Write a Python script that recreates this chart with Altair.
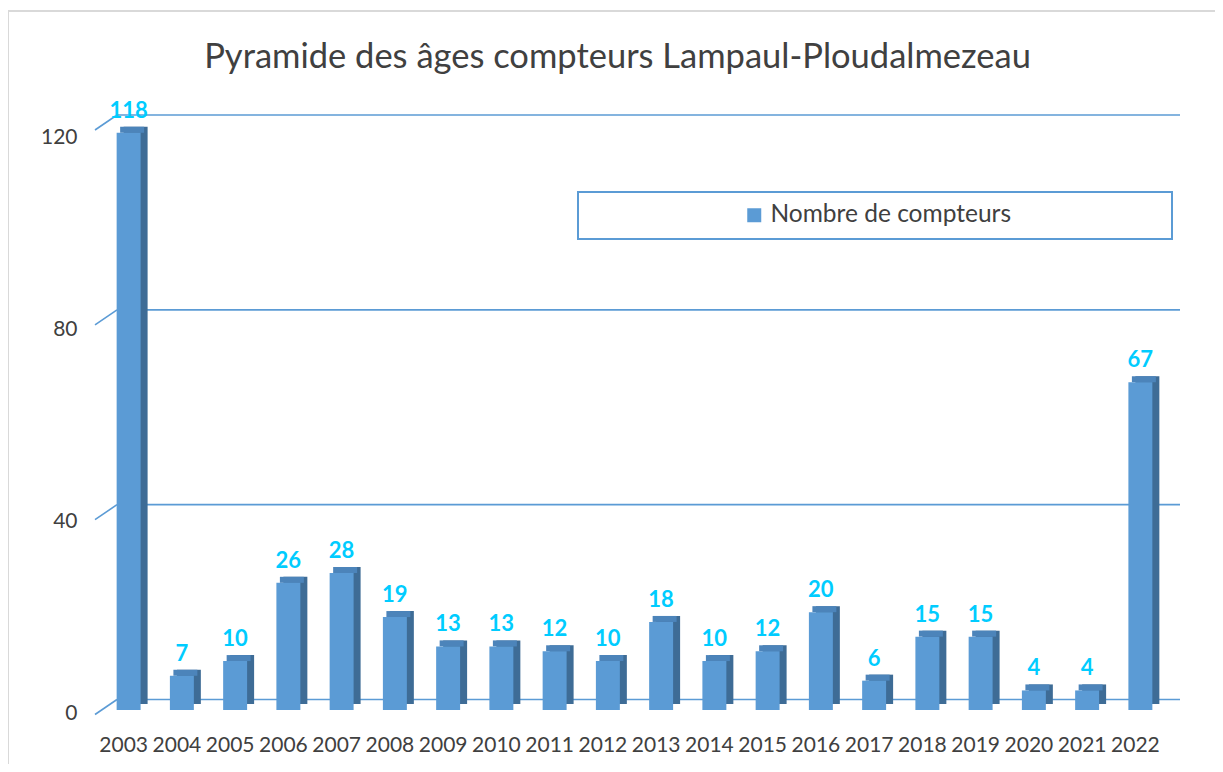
import altair as alt
import pandas as pd

years = [str(y) for y in range(2003, 2023)]
values = [118, 7, 10, 26, 28, 19, 13, 13, 12, 10, 18, 10, 12, 20, 6, 15, 15, 4, 4, 67]
series_name = "Nombre de compteurs"
tick_values = [0, 40, 80, 120]
title_text = "Pyramide des âges compteurs Lampaul-Ploudalmezeau"

FRONT = "#5B9BD5"
SIDE = "#3E6C96"
TOP = "#4C84BA"
GRID = "#5B9BD5"
TEXT = "#404040"
LABEL = "#00CCFF"
FONT = "Lato"

df = pd.DataFrame({"year": years, "value": values, "zero": [0] * len(values),
                   "series": [series_name] * len(values)})
ticks_df = pd.DataFrame({"v": tick_values})

W, H = 1065, 587

xenc = alt.X("year:N", sort=years,
             scale=alt.Scale(paddingInner=0.55, paddingOuter=0.275),
             axis=alt.Axis(title=None, domain=False, ticks=False, labelAngle=0,
                           labelFont=FONT, labelFontSize=21, labelColor=TEXT,
                           labelPadding=24))

# Layer A: y-axis labels (label plane)
yA = alt.Scale(domain=[0, 120], range=[590, 14])
layerA = alt.Chart(ticks_df).mark_point(opacity=0).encode(
    x=alt.value(0),
    y=alt.Y("v:Q", scale=yA,
            axis=alt.Axis(title=None, orient="left", values=tick_values, domain=False,
                          ticks=False, grid=False, labelFont=FONT, labelFontSize=21,
                          labelColor=TEXT, labelPadding=20)),
)

# Layer B: back wall gridlines and diagonal ticks
yB = alt.Scale(domain=[0, 120], range=[576.5, -8])
grid = alt.Chart(ticks_df).mark_rule(color=GRID, strokeWidth=1.6).encode(
    y=alt.Y("v:Q", scale=yB, axis=None),
    x=alt.value(20), x2=alt.value(1083),
)
diag = alt.Chart(ticks_df).mark_rule(color=GRID, strokeWidth=1.6, yOffset=15).encode(
    y=alt.Y("v:Q", scale=yB, axis=None),
    y2=alt.Y2("v:Q"),
    x=alt.value(-2), x2=alt.value(20),
)
layerB = alt.layer(grid, diag)

# Layer C: bars (front plane)
yC = alt.Scale(domain=[0, 120], range=[H, 0])
base = alt.Chart(df)
side = base.mark_bar(color=SIDE, xOffset=12, yOffset=-6, y2Offset=-6).encode(
    x=xenc, y=alt.Y("value:Q", scale=yC, axis=None), y2=alt.Y2("zero:Q"))
top = base.mark_bar(color=TOP, xOffset=8.5, yOffset=-6, y2Offset=0).encode(
    x=xenc, y=alt.Y("value:Q", scale=yC, axis=None), y2=alt.Y2("value:Q"))
front = base.mark_bar(xOffset=5).encode(
    x=xenc, y=alt.Y("value:Q", scale=yC, axis=None), y2=alt.Y2("zero:Q"),
    color=alt.Color("series:N",
                    scale=alt.Scale(domain=[series_name], range=[FRONT]),
                    legend=alt.Legend(orient="none", legendX=645, legendY=80, title=None,
                                      symbolType="square", symbolSize=196,
                                      symbolStrokeWidth=0, labelFont=FONT,
                                      labelFontSize=24.5, labelColor=TEXT, padding=0,
                                      labelOffset=4, labelLimit=500)))
labels = base.mark_text(xOffset=5, dy=-15, baseline="alphabetic", font=FONT,
                        fontSize=22, fontWeight="bold", color=LABEL).encode(
    x=xenc, y=alt.Y("value:Q", scale=yC, axis=None), text=alt.Text("value:Q"))

box_df = pd.DataFrame({"a": [0]})
title_df = pd.DataFrame({"t": [title_text]})
legend_box = alt.Chart(box_df).mark_rect(fill="white", fillOpacity=0, stroke=FRONT,
                                          strokeWidth=2).encode(
    x=alt.value(481), x2=alt.value(1075), y=alt.value(69), y2=alt.value(116))
border_v = alt.Chart(box_df).mark_rule(color="#D9D9D9", strokeWidth=2).encode(
    x=alt.value(-89), y=alt.value(-112), y2=alt.value(641))
border_h = alt.Chart(box_df).mark_rule(color="#D9D9D9", strokeWidth=2).encode(
    x=alt.value(-89), x2=alt.value(1118), y=alt.value(-112))
title_mark = alt.Chart(title_df).mark_text(font=FONT, fontSize=34.5, color=TEXT,
                                            align="center", baseline="alphabetic").encode(
    x=alt.value(520.5), y=alt.value(-55.5), text="t:N")

layerC = alt.layer(border_v, border_h, title_mark, legend_box, side, top, front, labels)

chart = alt.layer(layerA, layerB, layerC).resolve_scale(y="independent").properties(
    width=W, height=H,
    padding={"left": 89, "top": 115, "right": 53, "bottom": 54},
    autosize=alt.AutoSizeParams(type="none"),
    background="white",
).configure_view(stroke=None)

chart.save("out.html", embed_options={"renderer": "svg", "actions": False})
